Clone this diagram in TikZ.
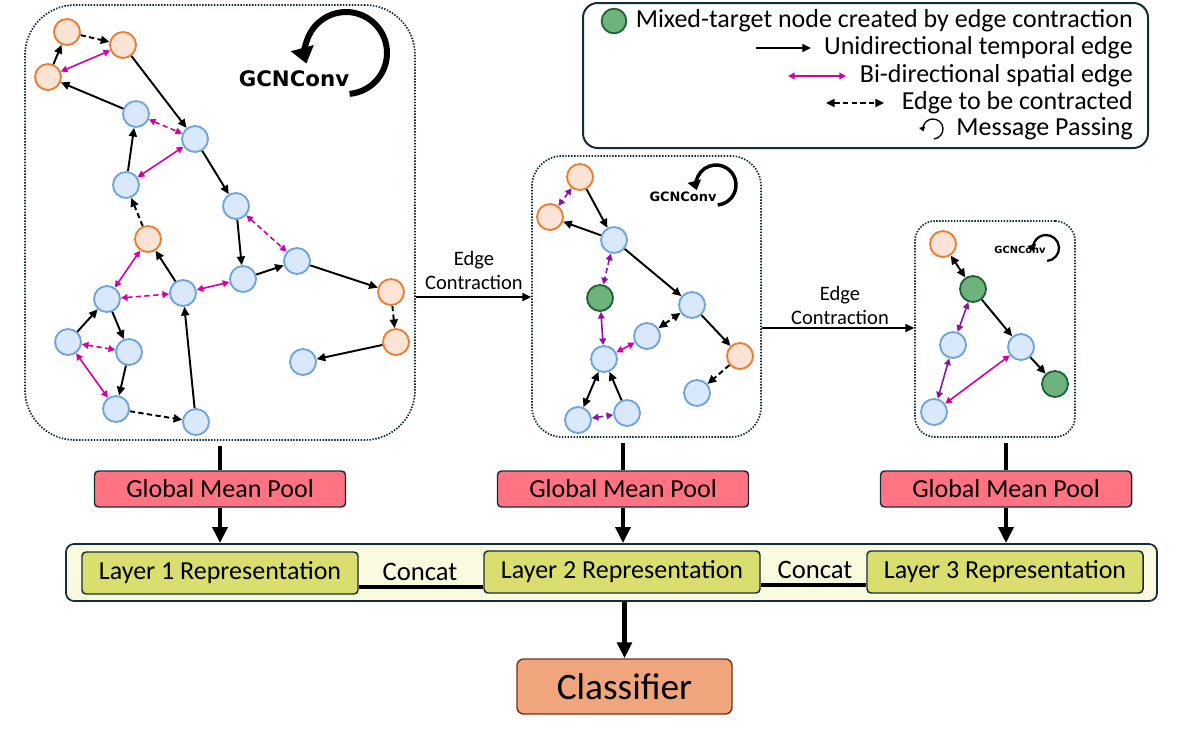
\documentclass[tikz,border=0pt]{standalone}
\usepackage{fontspec}
\setmainfont{Carlito}
\newfontfamily\gcnfont{DejaVu Sans}
\usetikzlibrary{arrows.meta}

\begin{document}
\begin{tikzpicture}[x=0.75pt,y=0.75pt,yscale=-1,xscale=1,
  bnode/.style={circle,draw={rgb,255:red,110;green,165;blue,220},fill={rgb,255:red,218;green,232;blue,252},line width=1.4pt,minimum size=19.5pt,inner sep=0pt},
  onode/.style={bnode,draw={rgb,255:red,237;green,125;blue,49},fill={rgb,255:red,251;green,228;blue,213}},
  gnode/.style={bnode,draw={rgb,255:red,35;green,100;blue,55},fill={rgb,255:red,110;green,178;blue,126}},
  tedge/.style={draw=black,line width=1.45pt,-{Triangle[length=6.5pt,width=6pt]}},
  tdash/.style={tedge,dash pattern=on 4pt off 2.5pt},
  kedge/.style={draw=black,line width=1.45pt,{Triangle[length=6.5pt,width=6pt]}-{Triangle[length=6.5pt,width=6pt]}},
  kdash/.style={kedge,dash pattern=on 4pt off 2.5pt},
  sedge/.style={draw={rgb,255:red,210;green,0;blue,165},line width=1.2pt,{Triangle[length=5pt,width=5pt]}-{Triangle[length=5pt,width=5pt]}},
  sdash/.style={sedge,dash pattern=on 4pt off 2.5pt},
  pedge/.style={sedge,draw={rgb,255:red,140;green,20;blue,160}},
  pdash/.style={pedge,dash pattern=on 4pt off 2.5pt},
  gbox/.style={draw={rgb,255:red,20;green,45;blue,60},line width=1.3pt,dash pattern=on 1.1pt off 1.1pt,inner sep=0pt},
  gmp/.style={draw={rgb,255:red,20;green,45;blue,60},line width=1.1pt,fill={rgb,255:red,255;green,115;blue,130},rounded corners=3pt,minimum width=188.25pt,minimum height=27pt,font=\fontsize{19.5pt}{20pt}\selectfont},
  layer/.style={gmp,fill={rgb,255:red,218;green,222;blue,110},minimum width=207pt,minimum height=31.5pt},
  bigarrow/.style={line width=3.5pt,-{Triangle[length=12pt,width=11pt]}},
  bigline/.style={line width=3.5pt},
  loop/.style={line width=4.5pt,-{Triangle[length=12pt,width=17pt]}},
  lbl/.style={inner sep=0.75pt,font=\fontsize{15.4pt}{18pt}\selectfont,align=center},
  leg/.style={anchor=east,inner sep=0pt,font=\fontsize{19.5pt}{20pt}\selectfont}
  ]
\useasboundingbox (0,0) rectangle (1180,746);

%Shape: Rounded Rect -- graph boxes
\node[gbox,rounded corners=37.5pt,minimum width=292.5pt,minimum height=326.25pt] (box1) at (220,222.5) {};
\node[gbox,rounded corners=22.5pt,minimum width=171.75pt,minimum height=210.75pt] (box2) at (646.5,296.5) {};
\node[gbox,rounded corners=15pt,minimum width=120pt,minimum height=162pt] (box3) at (995,329) {};

%Shape: Rounded Rect -- legend
\node[draw={rgb,255:red,20;green,45;blue,60},line width=1.5pt,rounded corners=11pt,minimum width=423.75pt,minimum height=108.75pt] (legend) at (865.5,75.5) {};

% Text Node
\node[inner sep=0pt,font=\gcnfont\bfseries\fontsize{16pt}{16pt}\selectfont] (gcn1) at (294,79) {GCNConv};
\node[inner sep=0pt,font=\gcnfont\bfseries\fontsize{9.7pt}{10pt}\selectfont] (gcn2) at (683,197) {GCNConv};
\node[inner sep=0pt,font=\gcnfont\bfseries\fontsize{7.4pt}{8pt}\selectfont] (gcn3) at (1020,250) {GCNConv};

%Curve Lines -- message passing loops
\draw[loop] ([shift={(85:41)}]346,53) arc[start angle=85,end angle=-195,radius=41];
\draw[line width=2.6pt,-{Triangle[length=7pt,width=10pt]}] ([shift={(85:20)}]716,185) arc[start angle=85,end angle=-195,radius=20];
\draw[line width=1.7pt,-{Triangle[length=5pt,width=6.5pt]}] ([shift={(85:13)}]1046,248) arc[start angle=85,end angle=-195,radius=13];

% graph 1
\node[onode] (a1) at (67,32) {};
\node[onode] (a2) at (123,45) {};
\node[onode] (a3) at (48,77) {};
\node[bnode] (a4) at (136,114) {};
\node[bnode] (a5) at (195,139) {};
\node[bnode] (a6) at (126,185) {};
\node[bnode] (a7) at (236,206) {};
\node[onode] (a8) at (148,239) {};
\node[bnode] (a9) at (297,261) {};
\node[bnode] (a10) at (243,279) {};
\node[bnode] (a11) at (183,293) {};
\node[bnode] (a12) at (107,299) {};
\node[onode] (a13) at (391,292) {};
\node[onode] (a14) at (396,342) {};
\node[bnode] (a15) at (68,342) {};
\node[bnode] (a16) at (129,352) {};
\node[bnode] (a17) at (303,362) {};
\node[bnode] (a18) at (116,409) {};
\node[bnode] (a19) at (196,422) {};

\draw[tdash] (a1) -- (a2);
\draw[tedge] (a3) -- (a1);
\draw[sedge] (a2) -- (a3);
\draw[tedge] (a4) -- (a3);
\draw[tedge] (a2) -- (a5);
\draw[sdash] (a4) -- (a5);
\draw[tedge] (a6) -- (a4);
\draw[sedge] (a6) -- (a5);
\draw[tedge] (a5) -- (a7);
\draw[tdash] (a8) -- (a6);
\draw[sdash] (a7) -- (a9);
\draw[tedge] (a7) -- (a10);
\draw[tedge] (a10) -- (a9);
\draw[tedge] (a9) -- (a13);
\draw[tdash] (a13) -- (a14);
\draw[tedge] (a14) -- (a17);
\draw[tedge] (a11) -- (a8);
\draw[sedge] (a8) -- (a12);
\draw[sdash] (a12) -- (a11);
\draw[sedge] (a11) -- (a10);
\draw[tedge] (a15) -- (a12);
\draw[tedge] (a12) -- (a16);
\draw[sdash] (a15) -- (a16);
\draw[sedge] (a15) -- (a18);
\draw[tedge] (a16) -- (a18);
\draw[tdash] (a18) -- (a19);
\draw[tedge] (a19) -- (a11);

% graph 2
\node[onode] (b1) at (580,177) {};
\node[onode] (b2) at (550,217) {};
\node[bnode] (b3) at (614,240) {};
\node[gnode] (b4) at (600,298) {};
\node[bnode] (b5) at (692,305) {};
\node[bnode] (b6) at (647,336) {};
\node[bnode] (b7) at (604,359) {};
\node[onode] (b8) at (740,356) {};
\node[bnode] (b9) at (697,393) {};
\node[bnode] (b10) at (578,420) {};
\node[bnode] (b11) at (627,413) {};

\draw[pdash] (b1) -- (b2);
\draw[tedge] (b1) -- (b3);
\draw[tedge] (b3) -- (b2);
\draw[pdash] (b3) -- (b4);
\draw[tedge] (b3) -- (b5);
\draw[pedge] (b4) -- (b7);
\draw[kdash] (b6) -- (b5);
\draw[sedge] (b7) -- (b6);
\draw[tedge] (b5) -- (b8);
\draw[tdash] (b8) -- (b9);
\draw[kedge] (b7) -- (b10);
\draw[tedge] (b11) -- (b7);
\draw[pdash] (b10) -- (b11);

% graph 3
\node[onode] (c1) at (943,244) {};
\node[gnode] (c2) at (973,289) {};
\node[bnode] (c3) at (953,345) {};
\node[bnode] (c4) at (1021,347) {};
\node[gnode] (c5) at (1055,384) {};
\node[bnode] (c6) at (934,412) {};

\draw[kedge] (c1) -- (c2);
\draw[tedge] (c2) -- (c4);
\draw[pedge] (c2) -- (c3);
\draw[tedge] (c4) -- (c5);
\draw[pedge] (c3) -- (c6);
\draw[sedge] (c4) -- (c6);

%Straight Lines -- edge contraction
\coordinate (ec1) at (0,297);
\coordinate (ec2) at (0,328);
\draw[line width=1.3pt,-{Triangle[length=6.5pt,width=6pt]}] (box1.east |- ec1) -- (box2.west |- ec1);
\draw[line width=1.3pt,-{Triangle[length=6.5pt,width=6pt]}] (box2.east |- ec2) -- (box3.west |- ec2);
% Text Node
\node[lbl] (ecl1) at (474,270) {Edge\\Contraction};
\node[lbl] (ecl2) at (840,305) {Edge\\Contraction};

% legend
\node[gnode,minimum size=18.5pt] (lgn) at (614,21) {};
\node[leg] (lt1) at (1133,21) {Mixed-target node created by edge contraction};
\node[leg] (lt2) at (1133,48) {Unidirectional temporal edge};
\node[leg] (lt3) at (1133,76) {Bi-directional spatial edge};
\node[leg] (lt4) at (1133,103) {Edge to be contracted};
\node[leg] (lt5) at (1133,129) {Message Passing};
\coordinate (lg2a) at (756,48);
\coordinate (lg2b) at (811,48);
\coordinate (lg3a) at (788,76);
\coordinate (lg3b) at (846,76);
\coordinate (lg4a) at (826,103);
\coordinate (lg4b) at (884,103);
\draw[tedge,line width=1.1pt] (lg2a) -- (lg2b);
\draw[sedge] (lg3a) -- (lg3b);
\draw[kdash,line width=1.1pt] (lg4a) -- (lg4b);
\draw[line width=1pt,-{Triangle[length=3.5pt,width=4.5pt]}] ([shift={(85:10)}]933,129) arc[start angle=85,end angle=-195,radius=10];

% pooling and representation
\node[gmp] (gmp1) at (220,489) {Global Mean Pool};
\node[gmp] (gmp2) at (623,489) {Global Mean Pool};
\node[gmp] (gmp3) at (1006,489) {Global Mean Pool};

\node[draw={rgb,255:red,20;green,45;blue,60},line width=1.3pt,fill={rgb,255:red,250;green,250;blue,222},rounded corners=6pt,minimum width=818.25pt,minimum height=42.75pt] (cont) at (611.5,572.5) {};

\node[layer] (l1) at (220,573) {Layer 1 Representation};
\node[layer] (l2) at (622,572) {Layer 2 Representation};
\node[layer] (l3) at (1005,572) {Layer 3 Representation};

\node[draw={rgb,255:red,120;green,50;blue,20},line width=1.1pt,fill={rgb,255:red,241;green,165;blue,125},rounded corners=5pt,minimum width=161.25pt,minimum height=41.25pt,font=\fontsize{28pt}{30pt}\selectfont] (clf) at (624.5,686.5) {Classifier};

%Straight Lines
\draw[bigline,shorten <=4pt] (box1.south -| gmp1.north) -- (gmp1.north);
\draw[bigline,shorten <=4pt] (box2.south -| gmp2.north) -- (gmp2.north);
\draw[bigline,shorten <=4pt] (box3.south -| gmp3.north) -- (gmp3.north);
\draw[bigarrow] (gmp1.south) -- (gmp1.south |- cont.north);
\draw[bigarrow] (gmp2.south) -- (gmp2.south |- cont.north);
\draw[bigarrow] (gmp3.south) -- (gmp3.south |- cont.north);
\draw[bigarrow] (clf.north |- cont.south) -- (clf.north);

\coordinate (cc1) at (0,587);
\coordinate (cc2) at (0,585);
\draw[line width=2.8pt] (l1.east |- cc1) -- (l2.west |- cc1);
\draw[line width=2.8pt] (l2.east |- cc2) -- (l3.west |- cc2);
% Text Node
\node[inner sep=0pt,font=\fontsize{20pt}{22pt}\selectfont] (cat1) at (420,572) {Concat};
\node[inner sep=0pt,font=\fontsize{20pt}{22pt}\selectfont] (cat2) at (815,570) {Concat};

\end{tikzpicture}
\end{document}
